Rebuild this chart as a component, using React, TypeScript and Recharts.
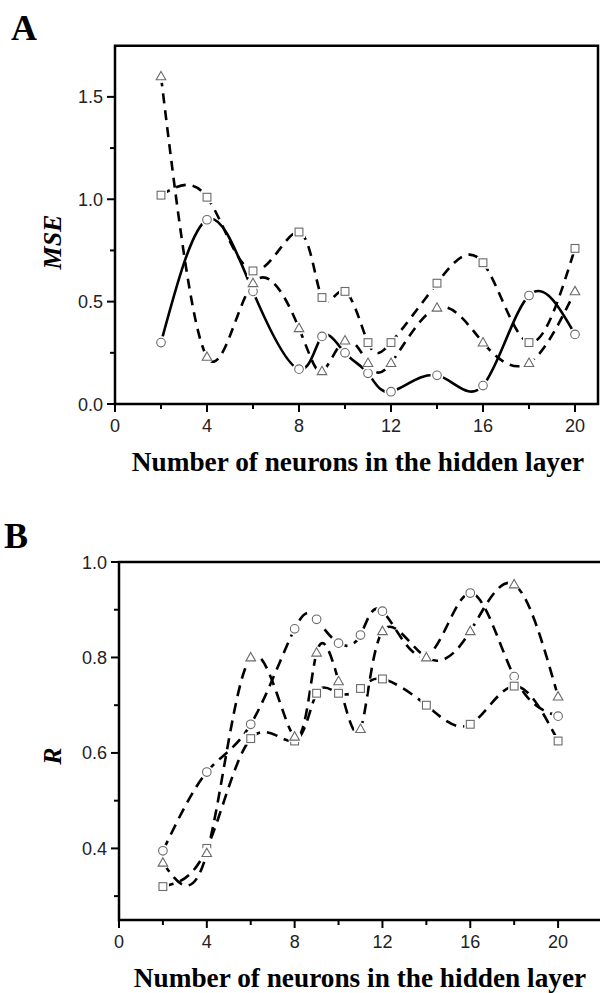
import { LineChart, Line, XAxis, YAxis, ReferenceArea } from 'recharts'

// x positions shared by both panels
const neurons = [2, 4, 6, 8, 9, 10, 11, 12, 14, 16, 18, 20]

// panel A — MSE
const mseCircle = [0.3, 0.9, 0.55, 0.17, 0.33, 0.25, 0.15, 0.06, 0.14, 0.09, 0.53, 0.34]
const mseSquare = [1.02, 1.01, 0.65, 0.84, 0.52, 0.55, 0.3, 0.3, 0.59, 0.69, 0.3, 0.76]
const mseTriangle = [1.6, 0.23, 0.59, 0.37, 0.16, 0.31, 0.2, 0.2, 0.47, 0.3, 0.2, 0.55]

// panel B — R
const rCircle = [0.395, 0.56, 0.66, 0.86, 0.88, 0.83, 0.847, 0.897, 0.803, 0.935, 0.76, 0.677]
const rSquare = [0.32, 0.4, 0.63, 0.625, 0.725, 0.725, 0.735, 0.755, 0.7, 0.66, 0.74, 0.625]
const rTriangle = [0.37, 0.39, 0.8, 0.634, 0.81, 0.75, 0.65, 0.855, 0.8, 0.855, 0.953, 0.718]

const xTicks = [0, 2, 4, 6, 8, 10, 12, 14, 16, 18, 20]
const mseTicks = [0, 0.25, 0.5, 0.75, 1, 1.25, 1.5]
const rTicks = [0.3, 0.4, 0.5, 0.6, 0.7, 0.8, 0.9, 1.0]

const TICK_FONT = '"Liberation Sans", Arial, sans-serif'
const TITLE_FONT = '"Liberation Serif", "Times New Roman", serif'
const MARK = '#6a6a6a'
const LINE_W = 2.6

const rowsA = neurons.map((x, i) => ({ x, c: mseCircle[i], s: mseSquare[i], t: mseTriangle[i] }))
const rowsB = neurons.map((x, i) => ({ x, c: rCircle[i], s: rSquare[i], t: rTriangle[i] }))

function XTick(props: any) {
  const { x, y, payload } = props
  const major = payload.value % 4 === 0
  return (
    <g>
      <line x1={x} x2={x} y1={y} y2={y + (major ? 8 : 5)} stroke="#000" strokeWidth={2} />
      {major && (
        <text x={x} y={y + 28} textAnchor="middle" fontSize={18} fontFamily={TICK_FONT} fill="#222">
          {payload.value}
        </text>
      )}
    </g>
  )
}

function makeYTick(isMajor: (v: number) => boolean) {
  return function YTick(props: any) {
    const { x, y, payload } = props
    const major = isMajor(payload.value)
    return (
      <g>
        <line x1={x} x2={x - (major ? 8 : 5)} y1={y} y2={y} stroke="#000" strokeWidth={2} />
        {major && (
          <text x={x - 12} y={y + 6.5} textAnchor="end" fontSize={18} fontFamily={TICK_FONT} fill="#222">
            {payload.value.toFixed(1)}
          </text>
        )}
      </g>
    )
  }
}

const YTickA = makeYTick((v) => Math.abs((v * 2) % 1) < 1e-6)
const YTickB = makeYTick((v) => Math.abs(Math.round(v * 10) % 2) === 0)

// open symbols with a small white halo, like Origin's gap-to-symbol
const Circle = (p: any) =>
  p.cx == null ? null : (
    <g>
      <circle cx={p.cx} cy={p.cy} r={6.5} fill="#fff" />
      <circle cx={p.cx} cy={p.cy} r={4.3} fill="#fff" stroke={MARK} strokeWidth={1.1} />
    </g>
  )
const Square = (p: any) =>
  p.cx == null ? null : (
    <g>
      <rect x={p.cx - 6} y={p.cy - 6} width={12} height={12} fill="#fff" />
      <rect x={p.cx - 3.9} y={p.cy - 3.9} width={7.8} height={7.8} fill="#fff" stroke={MARK} strokeWidth={1.1} />
    </g>
  )
const Triangle = (p: any) =>
  p.cx == null ? null : (
    <g>
      <circle cx={p.cx} cy={p.cy} r={6.5} fill="#fff" />
      <path
        d={`M${p.cx},${p.cy - 5}L${p.cx + 4.8},${p.cy + 3.4}L${p.cx - 4.8},${p.cy + 3.4}Z`}
        fill="#fff"
        stroke={MARK}
        strokeWidth={1.1}
      />
    </g>
  )

function Panel({
  rows,
  width,
  margin,
  domainX,
  domainY,
  yTicks,
  yTick,
  dashes,
}: {
  rows: any[]
  width: number
  margin: any
  domainX: [number, number]
  domainY: [number, number]
  yTicks: number[]
  yTick: any
  dashes: { c?: string; s?: string; t?: string }
}) {
  return (
    <LineChart width={width} height={480} data={rows} margin={margin}>
      <XAxis
        dataKey="x"
        type="number"
        domain={domainX}
        ticks={xTicks}
        interval={0}
        tickSize={0}
        tickMargin={0}
        axisLine={false}
        tickLine={false}
        tick={<XTick />}
        height={60}
        allowDataOverflow
      />
      <YAxis
        type="number"
        domain={domainY}
        ticks={yTicks}
        interval={0}
        tickSize={0}
        tickMargin={0}
        axisLine={false}
        tickLine={false}
        tick={yTick}
        width={100}
        allowDataOverflow
      />
      <ReferenceArea
        x1={domainX[0]}
        x2={domainX[1]}
        y1={domainY[0]}
        y2={domainY[1]}
        fill="none"
        fillOpacity={0}
        stroke="#000"
        strokeWidth={2.5}
        ifOverflow="visible"
      />
      <Line type="natural" dataKey="c" stroke="#000" strokeWidth={LINE_W} strokeDasharray={dashes.c} dot={false} isAnimationActive={false} />
      <Line type="natural" dataKey="s" stroke="#000" strokeWidth={LINE_W} strokeDasharray={dashes.s} dot={false} isAnimationActive={false} />
      <Line type="natural" dataKey="t" stroke="#000" strokeWidth={LINE_W} strokeDasharray={dashes.t} dot={false} isAnimationActive={false} />
      {/* markers drawn last so they sit on top of every curve */}
      <Line dataKey="c" stroke="none" dot={<Circle />} activeDot={false} isAnimationActive={false} />
      <Line dataKey="s" stroke="none" dot={<Square />} activeDot={false} isAnimationActive={false} />
      <Line dataKey="t" stroke="none" dot={<Triangle />} activeDot={false} isAnimationActive={false} />
    </LineChart>
  )
}

export default function App() {
  return (
    <div style={{ position: 'absolute', left: 0, top: 0, width: 600, height: 993, overflow: 'hidden', background: '#fff' }}>
      <div style={{ position: 'absolute', left: 0, top: 0 }}>
        <Panel
          rows={rowsA}
          width={600}
          margin={{ top: 45.7, right: 2, bottom: 16, left: 15 }}
          domainX={[0, 21]}
          domainY={[0, 1.75]}
          yTicks={mseTicks}
          yTick={<YTickA />}
          dashes={{ s: '10 7', t: '10 7' }}
        />
      </div>
      <div style={{ position: 'absolute', left: 0, top: 500 }}>
        <Panel
          rows={rowsB}
          width={610}
          margin={{ top: 62, right: 8, bottom: 0, left: 19 }}
          domainX={[0, 22]}
          domainY={[0.25, 1.0]}
          yTicks={rTicks}
          yTick={<YTickB />}
          dashes={{ c: '11 7', s: '11 7', t: '11 7' }}
        />
      </div>
      <svg width={600} height={993} style={{ position: 'absolute', left: 0, top: 0, pointerEvents: 'none' }}>
        <text x={11} y={40} fontSize={36} fontWeight="bold" fontFamily={TITLE_FONT}>A</text>
        <text x={4} y={548} fontSize={36} fontWeight="bold" fontFamily={TITLE_FONT}>B</text>
        <text x={358} y={471} textAnchor="middle" fontSize={27.3} fontWeight="bold" fontFamily={TITLE_FONT}>
          Number of neurons in the hidden layer
        </text>
        <text x={360} y={987} textAnchor="middle" fontSize={27.3} fontWeight="bold" fontFamily={TITLE_FONT}>
          Number of neurons in the hidden layer
        </text>
        <text
          transform="translate(61,242) rotate(-90)"
          textAnchor="middle"
          fontSize={26}
          fontWeight="bold"
          fontStyle="italic"
          fontFamily={TITLE_FONT}
        >
          MSE
        </text>
        <text
          transform="translate(61,756) rotate(-90)"
          textAnchor="middle"
          fontSize={26}
          fontWeight="bold"
          fontStyle="italic"
          fontFamily={TITLE_FONT}
        >
          R
        </text>
      </svg>
    </div>
  )
}
